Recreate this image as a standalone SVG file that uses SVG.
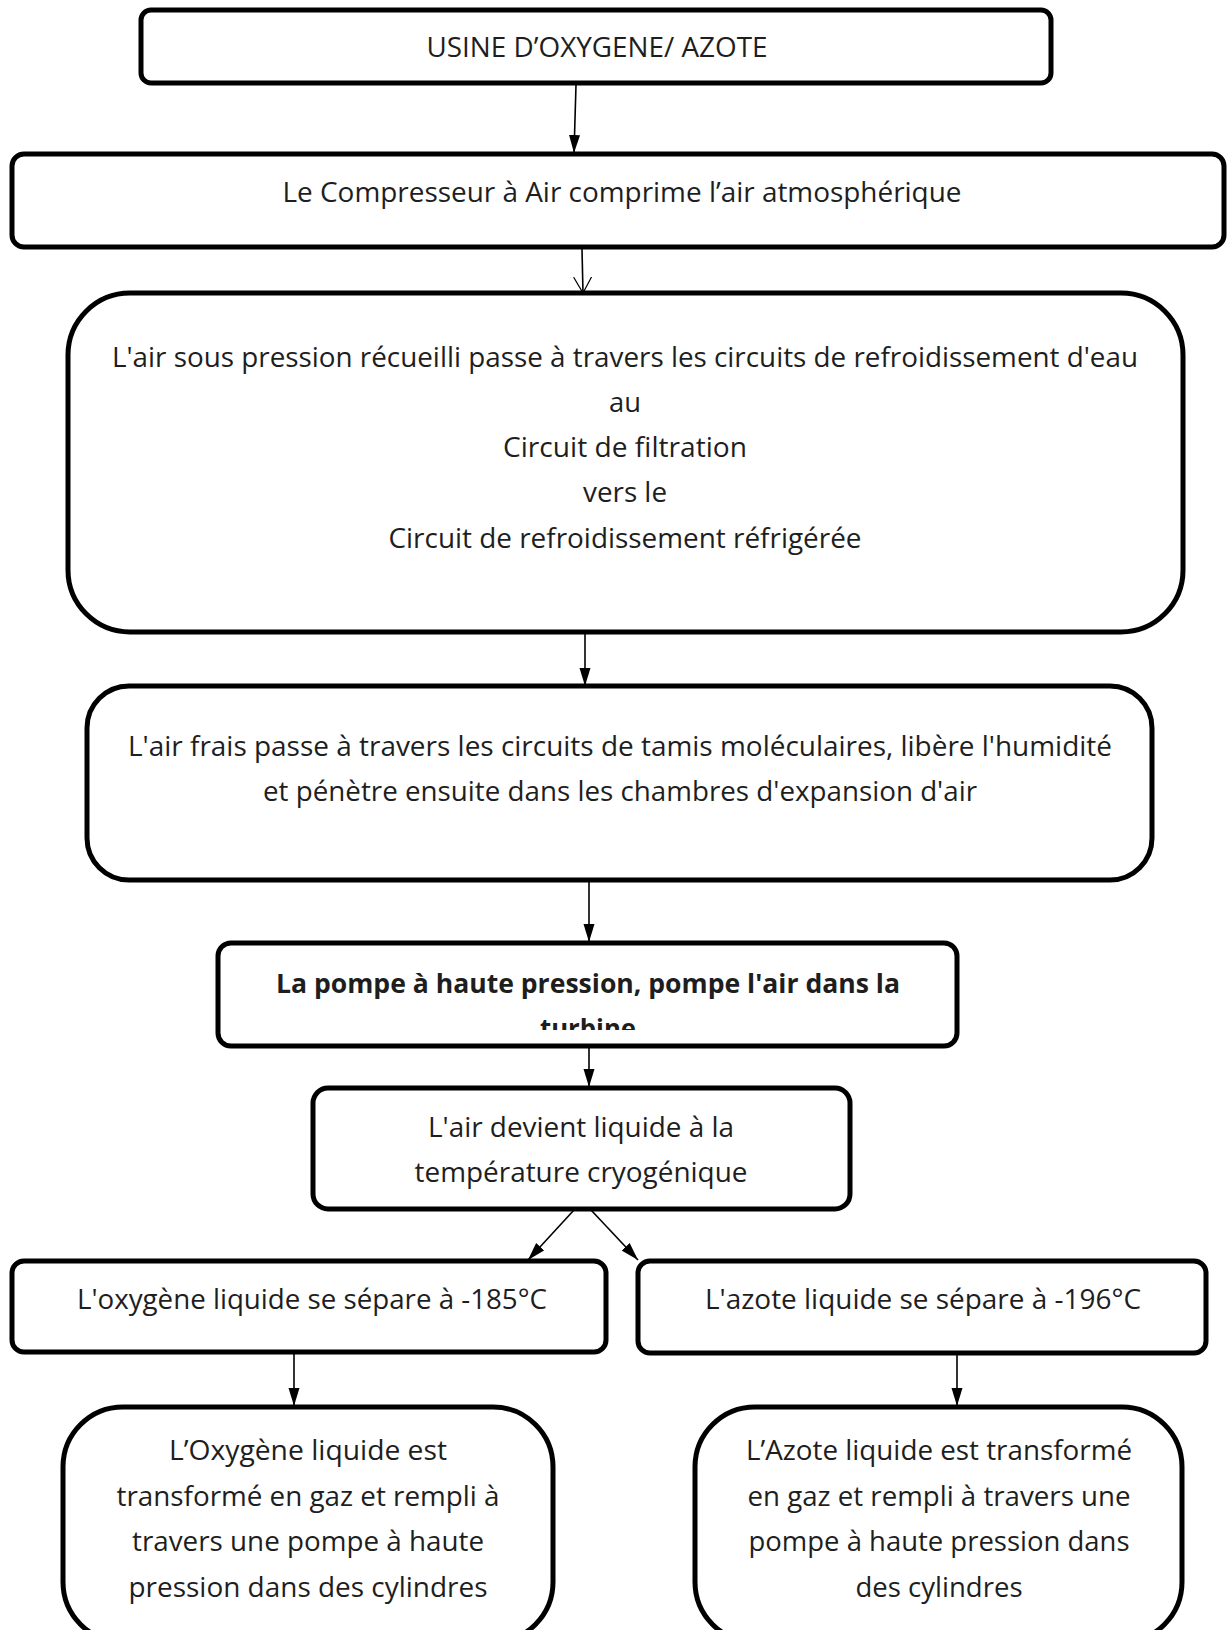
<svg xmlns="http://www.w3.org/2000/svg" width="1227" height="1630" viewBox="0 0 1227 1630">
  <style>
    .box { fill: #ffffff; stroke: #000000; stroke-width: 5; }
    .t { font-family: "Open Sans", "Noto Sans", "DejaVu Sans", sans-serif; font-size: 27px; fill: #1e1e1e; text-anchor: middle; }
    .b { font-weight: bold; }
    .edge { stroke: #000000; stroke-width: 1.6; fill: none; }
  </style>
  <defs>
    <marker id="solid" viewBox="0 0 18 12" refX="18" refY="6" markerWidth="18" markerHeight="12" markerUnits="userSpaceOnUse" orient="auto">
      <path d="M0,0.5 L18,6 L0,11.5 Z" fill="#000000"/>
    </marker>
    <marker id="open" viewBox="0 0 17 20" refX="16" refY="10" markerWidth="17" markerHeight="20" markerUnits="userSpaceOnUse" orient="auto">
      <path d="M0,1 L16,10 L0,19" fill="none" stroke="#000000" stroke-width="1.2"/>
    </marker>
    <clipPath id="clipPump">
      <rect x="218" y="943" width="739" height="87"/>
    </clipPath>
  </defs>

  <rect width="1227" height="1630" fill="#ffffff"/>

  <!-- connectors -->
  <g id="connectors">
    <line class="edge" x1="576" y1="85" x2="574" y2="153" marker-end="url(#solid)"/>
    <line class="edge" x1="582" y1="249" x2="583" y2="293" marker-end="url(#open)"/>
    <line class="edge" x1="585" y1="634" x2="585" y2="686" marker-end="url(#solid)"/>
    <line class="edge" x1="589" y1="882" x2="589" y2="942" marker-end="url(#solid)"/>
    <line class="edge" x1="589" y1="1048" x2="589" y2="1087" marker-end="url(#solid)"/>
    <line class="edge" x1="574" y1="1210" x2="528" y2="1260" marker-end="url(#solid)"/>
    <line class="edge" x1="591" y1="1210" x2="638" y2="1260" marker-end="url(#solid)"/>
    <line class="edge" x1="294" y1="1354" x2="294" y2="1406" marker-end="url(#solid)"/>
    <line class="edge" x1="957" y1="1355" x2="957" y2="1406" marker-end="url(#solid)"/>
  </g>

  <!-- plant title -->
  <g id="usine">
    <rect class="box" x="141" y="10" width="910" height="73" rx="10"/>
    <text class="t" x="597" y="57" textLength="341" lengthAdjust="spacingAndGlyphs">USINE D’OXYGENE/ AZOTE</text>
  </g>

  <!-- air compressor -->
  <g id="compresseur">
    <rect class="box" x="12" y="154" width="1212" height="93" rx="12"/>
    <text class="t" x="622" y="202" textLength="679" lengthAdjust="spacingAndGlyphs">Le Compresseur à Air comprime l’air atmosphérique</text>
  </g>

  <!-- cooling and filtration circuits -->
  <g id="refroidissement">
    <rect class="box" x="68" y="293" width="1115" height="339" rx="62"/>
    <text class="t" x="625" y="367" textLength="1026" lengthAdjust="spacingAndGlyphs">L'air sous pression récueilli passe à travers les circuits de refroidissement d'eau</text>
    <text class="t" x="625" y="412" textLength="32" lengthAdjust="spacingAndGlyphs">au</text>
    <text class="t" x="625" y="457" textLength="244" lengthAdjust="spacingAndGlyphs">Circuit de filtration</text>
    <text class="t" x="625" y="502" textLength="84" lengthAdjust="spacingAndGlyphs">vers le</text>
    <text class="t" x="625" y="548" textLength="473" lengthAdjust="spacingAndGlyphs">Circuit de refroidissement réfrigérée</text>
  </g>

  <!-- molecular sieves -->
  <g id="tamis">
    <rect class="box" x="87" y="686" width="1065" height="194" rx="42"/>
    <text class="t" x="620" y="756" textLength="984" lengthAdjust="spacingAndGlyphs">L'air frais passe à travers les circuits de tamis moléculaires, libère l'humidité</text>
    <text class="t" x="620" y="801" textLength="714" lengthAdjust="spacingAndGlyphs">et pénètre ensuite dans les chambres d'expansion d'air</text>
  </g>

  <!-- high pressure pump -->
  <g id="pompe">
    <rect class="box" x="218" y="943" width="739" height="103" rx="13"/>
    <g clip-path="url(#clipPump)">
      <text class="t b" x="588" y="993" textLength="624" lengthAdjust="spacingAndGlyphs">La pompe à haute pression, pompe l'air dans la</text>
      <text class="t b" x="588" y="1038" textLength="96" lengthAdjust="spacingAndGlyphs">turbine</text>
    </g>
  </g>

  <!-- liquefaction -->
  <g id="liquefaction">
    <rect class="box" x="313" y="1088" width="537" height="121" rx="15"/>
    <text class="t" x="581" y="1137" textLength="306" lengthAdjust="spacingAndGlyphs">L'air devient liquide à la</text>
    <text class="t" x="581" y="1182" textLength="333" lengthAdjust="spacingAndGlyphs">température cryogénique</text>
  </g>

  <!-- oxygen separation -->
  <g id="sep-oxygene">
    <rect class="box" x="12" y="1261" width="594" height="91" rx="12"/>
    <text class="t" x="312" y="1309" textLength="470" lengthAdjust="spacingAndGlyphs">L'oxygène liquide se sépare à -185°C</text>
  </g>

  <!-- nitrogen separation -->
  <g id="sep-azote">
    <rect class="box" x="638" y="1261" width="568" height="92" rx="12"/>
    <text class="t" x="923" y="1309" textLength="436" lengthAdjust="spacingAndGlyphs">L'azote liquide se sépare à -196°C</text>
  </g>

  <!-- oxygen filling -->
  <g id="remplissage-oxygene">
    <rect class="box" x="63" y="1407" width="490" height="235" rx="60"/>
    <text class="t" x="308" y="1460" textLength="278" lengthAdjust="spacingAndGlyphs">L’Oxygène liquide est</text>
    <text class="t" x="308" y="1506" textLength="383" lengthAdjust="spacingAndGlyphs">transformé en gaz et rempli à</text>
    <text class="t" x="308" y="1551" textLength="352" lengthAdjust="spacingAndGlyphs">travers une pompe à haute</text>
    <text class="t" x="308" y="1597" textLength="359" lengthAdjust="spacingAndGlyphs">pression dans des cylindres</text>
  </g>

  <!-- nitrogen filling -->
  <g id="remplissage-azote">
    <rect class="box" x="695" y="1407" width="487" height="235" rx="60"/>
    <text class="t" x="939" y="1460" textLength="386" lengthAdjust="spacingAndGlyphs">L’Azote liquide est transformé</text>
    <text class="t" x="939" y="1506" textLength="383" lengthAdjust="spacingAndGlyphs">en gaz et rempli à travers une</text>
    <text class="t" x="939" y="1551" textLength="381" lengthAdjust="spacingAndGlyphs">pompe à haute pression dans</text>
    <text class="t" x="939" y="1597" textLength="167" lengthAdjust="spacingAndGlyphs">des cylindres</text>
  </g>
</svg>
